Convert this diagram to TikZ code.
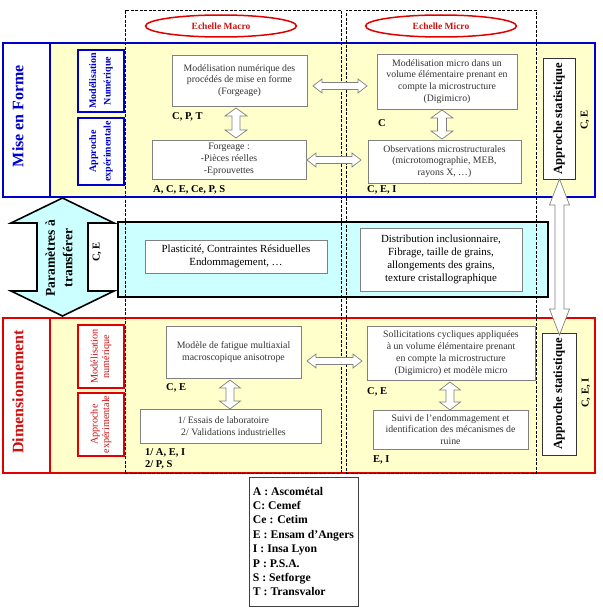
\documentclass[tikz,border=0pt]{standalone}
\usepackage{fontspec}
\setmainfont{Liberation Serif}
\usetikzlibrary{shapes.geometric}
\definecolor{myblue}{HTML}{0000CC}
\definecolor{myred}{HTML}{E00000}
\definecolor{txtred}{HTML}{CC1111}
\definecolor{myyellow}{HTML}{FFFFCC}
\definecolor{mycyan}{HTML}{CCFFFF}
\definecolor{boxgray}{HTML}{808080}
\newcommand\fsz[2]{\fontsize{#1}{#2}\selectfont}
\newcommand\bx[7]{\node[#6, minimum width={(#4-#2)*1pt}, minimum height={(#5-#3)*1pt}] (#1) at ({(#2+#4)/2},{(#3+#5)/2}) {#7};}
\newcommand\rbx[7]{\node[#6, rotate=90, minimum width={(#5-#3)*1pt}, minimum height={(#4-#2)*1pt}] (#1) at ({(#2+#4)/2},{(#3+#5)/2}) {#7};}
% vertical double block arrow: [style]{x}{ytop}{ybot}{headhalf}{shafthalf}{headlen}
\newcommand\vdarrow[7][blockarrow]{\draw[#1] (#2,#3) -- ({#2+#5},{#3+#7}) -- ({#2+#6},{#3+#7}) -- ({#2+#6},{#4-#7}) -- ({#2+#5},{#4-#7}) -- (#2,#4) -- ({#2-#5},{#4-#7}) -- ({#2-#6},{#4-#7}) -- ({#2-#6},{#3+#7}) -- ({#2-#5},{#3+#7}) -- cycle;}
% horizontal double block arrow: [style]{y}{xleft}{xright}{headhalf}{shafthalf}{headlen}
\newcommand\hdarrow[7][blockarrow]{\draw[#1] (#3,#2) -- ({#3+#7},{#2-#5}) -- ({#3+#7},{#2-#6}) -- ({#4-#7},{#2-#6}) -- ({#4-#7},{#2-#5}) -- (#4,#2) -- ({#4-#7},{#2+#5}) -- ({#4-#7},{#2+#6}) -- ({#3+#7},{#2+#6}) -- ({#3+#7},{#2+#5}) -- cycle;}
\begin{document}
\begin{tikzpicture}[x=1pt,y=-1pt,
  frameB/.style={draw=myblue, line width=2.6pt, fill=myyellow, inner sep=0pt, outer sep=0pt},
  frameR/.style={draw=myred, line width=2.2pt, fill=myyellow, inner sep=0pt, outer sep=0pt},
  sideB/.style={draw=myblue, line width=2.6pt, fill=white, inner sep=0pt, outer sep=0pt},
  sideR/.style={draw=myred, line width=2.2pt, fill=white, inner sep=0pt, outer sep=0pt},
  subB/.style={draw=myblue, line width=2.4pt, fill=white, inner sep=0pt, outer sep=0pt, align=center, text=myblue, font=\bfseries\fsz{10}{14.5}},
  subR/.style={draw=myred, line width=2pt, fill=white, inner sep=0pt, outer sep=0pt, align=center, text=txtred, font=\fsz{10.2}{11.5}},
  bigtitleB/.style={text=myblue, font=\bfseries\fsz{16}{18}, inner sep=0pt, rotate=90},
  bigtitleR/.style={text=txtred, font=\bfseries\fsz{16}{18}, inner sep=0pt, rotate=90},
  dashcol/.style={draw=black, line width=0.9pt, dash pattern=on 3pt off 1.5pt, inner sep=0pt},
  ell/.style={ellipse, draw=myred, line width=1.5pt, minimum width=151pt, minimum height=22pt, inner sep=0pt, text=txtred, font=\bfseries\fsz{9.5}{11}},
  wbox/.style={draw=boxgray, line width=0.7pt, fill=white, inner sep=0pt, outer sep=0pt, align=center, text=black!80, font=\fsz{9.8}{11.8}},
  cbox/.style={draw=boxgray, line width=0.7pt, fill=white, inner sep=0pt, outer sep=0pt, align=center, text=black, font=\fsz{10.9}{13.2}},
  cyanframe/.style={draw=black, line width=2.2pt, fill=mycyan, inner sep=0pt, outer sep=0pt},
  statbox/.style={draw=black!80, line width=0.8pt, fill=white, inner sep=0pt, outer sep=0pt, font=\bfseries\fsz{12.6}{14}},
  lab/.style={font=\bfseries\fsz{10.5}{12}, inner sep=0pt, anchor=west},
  rlab/.style={font=\bfseries\fsz{10.5}{12}, inner sep=0pt, rotate=90},
  blockarrow/.style={draw=boxgray, line width=0.7pt, fill=white, line join=miter},
  cyanarrow/.style={draw=black, line width=1.6pt, fill=mycyan, line join=miter},
  legend/.style={draw=black!75, line width=1pt, fill=white, inner sep=0pt, outer sep=0pt, align=left, font=\bfseries\fsz{11.7}{14.4}}
]
\useasboundingbox (0,0) rectangle (602,610);

% ---------- top frame: Mise en Forme ----------
\bx{topframe}{3}{43}{595}{197}{frameB}{}
\bx{mefbox}{3}{43}{50}{197}{sideB}{}
\node[bigtitleB] (meftxt) at (18,116) {Mise en Forme};
\rbx{mn1}{78}{50}{124}{112}{subB}{Modélisation\\Numérique}
\rbx{ae1}{78}{118}{124}{185}{subB}{Approche\\expérimentale}

% ---------- bottom frame: Dimensionnement ----------
\bx{botframe}{3}{318}{595}{473}{frameR}{}
\bx{dimbox}{3}{318}{50}{473}{sideR}{}
\node[bigtitleR] (dimtxt) at (18,392) {Dimensionnement};
\rbx{mn2}{78}{325}{124}{388}{subR}{Modélisation\\numérique}
\rbx{ae2}{78}{393}{124}{456}{subR}{Approche\\expérimentale}

% ---------- middle cyan frame ----------
\bx{cyanbox}{118}{222}{548}{297}{cyanframe}{}

% ---------- dashed columns ----------
\bx{colmacro}{125}{10}{341}{473}{dashcol}{}
\bx{colmicro}{346}{10}{536}{473}{dashcol}{}
\node[ell] (emacro) at (221,26) {Echelle Macro};
\node[ell] (emicro) at (441,26) {Echelle Micro};

% ---------- top boxes ----------
\bx{m1}{172}{55}{307}{106}{wbox}{Modélisation numérique des\\procédés de mise en forme\\(Forgeage)}
\bx{f1}{152}{140}{306}{179}{wbox}{Forgeage :\\-Pièces réelles\\-Eprouvettes}
\bx{m2}{377}{54}{517}{109}{wbox}{Modélisation micro dans un\\volume élémentaire prenant en\\compte la microstructure\\(Digimicro)}
\bx{o2}{368}{140}{521}{183}{wbox}{Observations microstructurales\\(microtomographie, MEB,\\rayons X, …)}
\rbx{as1}{543}{58}{575}{179}{statbox}{Approche statistique}

\node[lab] (l1) at (172,117) {C, P, T};
\node[lab] (l2) at (153,190) {A, C, E, Ce, P, S};
\node[lab] (l3) at (378,123) {C};
\node[lab] (l4) at (367,190) {C, E, I};
\node[rlab] (l5) at (585,120) {C, E};

\vdarrow{236}{108}{138}{11}{4}{8}
\vdarrow{442}{110}{139}{11}{4.5}{8}
\hdarrow{86}{313}{367}{7}{3.5}{9}
\hdarrow{160}{307}{361}{7}{3.5}{9}

% ---------- middle boxes ----------
\bx{pl}{145}{240}{327}{273}{cbox}{Plasticité, Contraintes Résiduelles\\Endommagement, …}
\bx{di}{360}{228}{522}{291}{cbox}{Distribution inclusionnaire,\\Fibrage, taille de grains,\\allongements des grains,\\texture cristallographique}
\vdarrow[cyanarrow]{62.5}{198}{316}{51.5}{25.5}{25}
\node[rotate=90, align=center, inner sep=0pt, font=\bfseries\fsz{13.5}{17.5}] (param) at (59,258) {Paramètres à\\transférer};
\node[rlab] (l6) at (97,252) {C, E};

% ---------- bottom boxes ----------
\bx{fa}{166}{326}{301}{378}{wbox}{Modèle de fatigue multiaxial\\macroscopique anisotrope}
\bx{es}{140}{409}{321}{443}{wbox}{\hspace*{-4pt}1/ Essais de laboratoire\hspace*{10pt}\\\hspace*{6pt}2/ Validations industrielles}
\bx{so}{367}{326}{535}{380}{wbox}{Sollicitations cycliques appliquées\\à un volume élémentaire prenant\\en compte la microstructure\\(Digimicro) et modèle micro}
\bx{su}{373}{410}{528}{449}{wbox}{Suivi de l’endommagement et\\identification des mécanismes de\\ruine}
\rbx{as2}{542}{333}{576}{455}{statbox}{Approche statistique}

\node[lab] (l7) at (166,388) {C, E};
\node[lab] (l8) at (145,453) {1/ A, E, I};
\node[lab] (l9) at (145,465) {2/ P, S};
\node[lab] (l10) at (367,392) {C, E};
\node[lab] (l11) at (373,460) {E, I};
\node[rlab] (l12) at (586,393) {C, E, I};

\vdarrow{230}{380}{409}{10.5}{4}{8}
\vdarrow{450}{382}{410}{10.5}{4}{8}
\hdarrow{361}{307}{362}{7}{3.5}{9}

% ---------- right long arrow between statistical approaches ----------
\vdarrow{559.5}{179}{335}{10}{4.5}{26}

% ---------- legend ----------
\bx{leg}{249}{477}{358}{606}{legend}{A : Ascométal\\C: Cemef\\Ce : Cetim\\E : Ensam d’Angers\\I : Insa Lyon\\P : P.S.A.\\S : Setforge\\T : Transvalor}
\end{tikzpicture}
\end{document}
